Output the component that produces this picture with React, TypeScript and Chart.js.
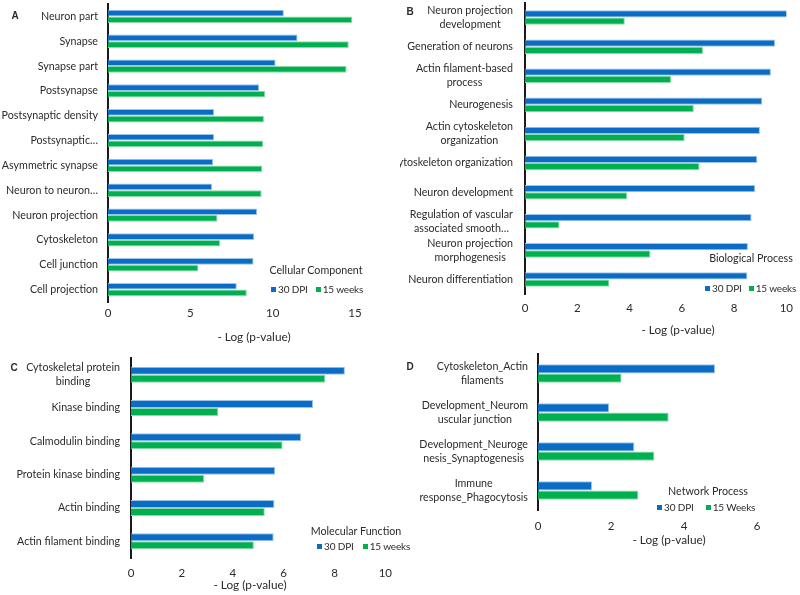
import React, { useEffect, useRef } from "react";
import { Chart, registerables } from "chart.js";

Chart.register(...registerables);

const FONT = "Lato, 'Open Sans', sans-serif";
const TEXT = "#2b2b2b";
const BLUE = "#0b6cc5";
const GREEN = "#00b050";
const BLUE_EDGE = "#9dc3e6";
const GREEN_EDGE = "#8fd9a8";

// ---- Panel A: Cellular Component ----
const ccCategories: (string | string[])[] = [
  "Neuron part",
  "Synapse",
  "Synapse part",
  "Postsynapse",
  "Postsynaptic density",
  "Postsynaptic…",
  "Asymmetric synapse",
  "Neuron to neuron…",
  "Neuron projection",
  "Cytoskeleton",
  "Cell junction",
  "Cell projection",
];
const cc30DPI = [10.68, 11.51, 10.18, 9.18, 6.45, 6.45, 6.39, 6.32, 9.06, 8.88, 8.84, 7.82];
const cc15Weeks = [14.84, 14.62, 14.49, 9.55, 9.47, 9.43, 9.37, 9.33, 6.65, 6.81, 5.49, 8.43];
const ccTicks = [0, 5, 10, 15];

// ---- Panel B: Biological Process ----
const bpCategories: (string | string[])[] = [
  ["Neuron projection", "development"],
  "Generation of neurons",
  ["Actin filament-based", "process"],
  "Neurogenesis",
  ["Actin cytoskeleton", "organization"],
  "Cytoskeleton organization",
  "Neuron development",
  ["Regulation of vascular", "associated smooth…"],
  ["Neuron projection", "morphogenesis"],
  "Neuron differentiation",
];
const bp30DPI = [10.09, 9.57, 9.41, 9.08, 8.99, 8.89, 8.81, 8.67, 8.53, 8.51];
const bp15Weeks = [3.82, 6.81, 5.59, 6.46, 6.11, 6.68, 3.91, 1.32, 4.8, 3.23];
const bpTicks = [0, 2, 4, 6, 8, 10];

// ---- Panel C: Molecular Function ----
const mfCategories: (string | string[])[] = [
  ["Cytoskeletal protein", "binding"],
  "Kinase binding",
  "Calmodulin binding",
  "Protein kinase binding",
  "Actin binding",
  "Actin filament binding",
];
const mf30DPI = [8.41, 7.16, 6.69, 5.67, 5.64, 5.61];
const mf15Weeks = [7.64, 3.43, 5.96, 2.88, 5.26, 4.83];
const mfTicks = [0, 2, 4, 6, 8, 10];

// ---- Panel D: Network Process ----
const npCategories: (string | string[])[] = [
  ["Cytoskeleton_Actin", "filaments"],
  ["Development_Neurom", "uscular junction"],
  ["Development_Neuroge", "nesis_Synaptogenesis"],
  ["Immune", "response_Phagocytosis"],
];
const np30DPI = [4.85, 1.95, 2.64, 1.48];
const np15Weeks = [2.29, 3.58, 3.19, 2.75];
const npTicks = [0, 2, 4, 6];

const seriesNames = ["30 DPI", "15 weeks"];
const seriesNamesD = ["30 DPI", "15 Weeks"];
const axisTitle = "- Log (p-value)";

const LABEL_SIZE = 10.7;
const LEGEND_SIZE = 10;
const LEGEND_TITLE_SIZE = 10.7;
const AXIS_TITLE_SIZE = 11.8;

type Box = { left: number; top: number; width: number; height: number };
type Area = { left: number; right: number; top: number; bottom: number };

type PanelProps = {
  labels: (string | string[])[];
  s1: number[];
  s2: number[];
  names: string[];
  ticks: number[];
  box: Box;
  area: Area;
  tickPad: number;
  catPct: number;
  labelPad: number;
  lineH: number;
};

function Panel(p: PanelProps) {
  const ref = useRef<HTMLCanvasElement>(null);
  useEffect(() => {
    if (!ref.current) return;
    const yW = p.area.left - p.box.left;
    const rPad = p.box.left + p.box.width - p.area.right;
    const tPad = p.area.top - p.box.top;
    const xH = p.box.top + p.box.height - p.area.bottom;
    const labelPlugin = {
      id: "catLabels",
      afterDraw(chart: any) {
        const ctx = chart.ctx;
        const y = chart.scales.y;
        ctx.save();
        ctx.font = `${LABEL_SIZE}px ${FONT}`;
        ctx.fillStyle = TEXT;
        ctx.textAlign = "center";
        ctx.textBaseline = "middle";
        p.labels.forEach((lab, i) => {
          const lines = Array.isArray(lab) ? lab : [lab];
          const w = Math.max(...lines.map((l) => ctx.measureText(l).width));
          const cx = chart.chartArea.left - p.labelPad - w / 2;
          const cy = y.getPixelForValue(i);
          lines.forEach((ln, j) => {
            ctx.fillText(ln, cx, cy + (j - (lines.length - 1) / 2) * p.lineH);
          });
        });
        ctx.restore();
      },
    };
    const chart = new Chart(ref.current, {
      type: "bar",
      data: {
        labels: p.labels as any,
        datasets: [
          {
            label: p.names[0],
            data: p.s1,
            backgroundColor: BLUE,
            borderColor: BLUE_EDGE,
            borderWidth: 1,
            categoryPercentage: p.catPct,
            barPercentage: 1,
          },
          {
            label: p.names[1],
            data: p.s2,
            backgroundColor: GREEN,
            borderColor: GREEN_EDGE,
            borderWidth: 1,
            categoryPercentage: p.catPct,
            barPercentage: 1,
          },
        ],
      },
      options: {
        indexAxis: "y",
        responsive: false,
        animation: false,
        layout: { padding: { top: tPad, right: rPad, bottom: 0, left: 0 } },
        plugins: { legend: { display: false }, tooltip: { enabled: false } },
        scales: {
          x: {
            min: p.ticks[0],
            max: p.ticks[p.ticks.length - 1],
            ticks: {
              stepSize: p.ticks[1] - p.ticks[0],
              padding: p.tickPad,
              color: TEXT,
              font: { family: FONT, size: 11.5, lineHeight: 1.2 },
            },
            grid: { display: false, drawTicks: false },
            border: { display: false },
            afterFit: (s: any) => {
              s.height = xH;
            },
          },
          y: {
            ticks: { display: false },
            grid: { display: false, drawTicks: false },
            border: { display: true, color: "#1a1a1a", width: 2 },
            afterFit: (s: any) => {
              s.width = yW;
            },
          },
        },
      } as any,
      plugins: [labelPlugin],
    });
    return () => chart.destroy();
  }, []);
  return (
    <canvas
      ref={ref}
      width={p.box.width}
      height={p.box.height}
      style={{
        position: "absolute",
        left: p.box.left,
        top: p.box.top,
        width: p.box.width,
        height: p.box.height,
      }}
    />
  );
}

function Txt(props: { x: number; y: number; size?: number; bold?: boolean; family?: string; children: any }) {
  return (
    <div
      style={{
        position: "absolute",
        left: props.x,
        top: props.y,
        transform: "translate(-50%, -50%)",
        whiteSpace: "nowrap",
        fontFamily: props.family || FONT,
        fontSize: props.size || 12,
        fontWeight: props.bold ? 700 : 400,
        color: TEXT,
        lineHeight: 1,
      }}
    >
      {props.children}
    </div>
  );
}

function Legend(props: { x: number; y: number; names: string[]; gap: number }) {
  const sq = (c: string) => (
    <span style={{ display: "inline-block", width: 5, height: 5, background: c, marginRight: 2 }} />
  );
  return (
    <div
      style={{
        position: "absolute",
        left: props.x,
        top: props.y,
        transform: "translateY(-50%)",
        display: "flex",
        alignItems: "center",
        whiteSpace: "nowrap",
        fontFamily: FONT,
        fontSize: LEGEND_SIZE,
        letterSpacing: -0.15,
        color: TEXT,
        lineHeight: 1,
      }}
    >
      {sq(BLUE)}
      <span style={{ marginRight: props.gap }}>{props.names[0]}</span>
      {sq(GREEN)}
      <span>{props.names[1]}</span>
    </div>
  );
}

export default function App() {
  return (
    <div
      style={{
        position: "absolute",
        left: 0,
        top: 0,
        width: 800,
        height: 595,
        background: "#fff",
        overflow: "hidden",
      }}
    >
      <Panel
        labels={ccCategories}
        s1={cc30DPI}
        s2={cc15Weeks}
        names={seriesNames}
        ticks={ccTicks}
        box={{ left: 0, top: 0, width: 400, height: 350 }}
        area={{ left: 108, right: 355, top: 4, bottom: 302 }}
        tickPad={4}
        catPct={0.54}
        labelPad={10}
        lineH={13.5}
      />
      <Panel
        labels={bpCategories}
        s1={bp30DPI}
        s2={bp15Weeks}
        names={seriesNames}
        ticks={bpTicks}
        box={{ left: 400, top: 0, width: 400, height: 350 }}
        area={{ left: 525, right: 788, top: 3, bottom: 294 }}
        tickPad={7}
        catPct={0.5}
        labelPad={12}
        lineH={14}
      />
      <Panel
        labels={mfCategories}
        s1={mf30DPI}
        s2={mf15Weeks}
        names={seriesNames}
        ticks={mfTicks}
        box={{ left: 0, top: 350, width: 400, height: 245 }}
        area={{ left: 131, right: 393, top: 358, bottom: 558 }}
        tickPad={8}
        catPct={0.48}
        labelPad={11}
        lineH={13.5}
      />
      <Panel
        labels={npCategories}
        s1={np30DPI}
        s2={np15Weeks}
        names={seriesNamesD}
        ticks={npTicks}
        box={{ left: 400, top: 350, width: 400, height: 245 }}
        area={{ left: 538, right: 757, top: 354, bottom: 510 }}
        tickPad={9}
        catPct={0.48}
        labelPad={10}
        lineH={13.5}
      />

      <Txt x={15} y={16} size={10} bold family="'Liberation Sans', Arial, sans-serif">A</Txt>
      <Txt x={410} y={12} size={10} bold family="'Liberation Sans', Arial, sans-serif">B</Txt>
      <Txt x={14} y={368} size={10} bold family="'Liberation Sans', Arial, sans-serif">C</Txt>
      <Txt x={410} y={367} size={10} bold family="'Liberation Sans', Arial, sans-serif">D</Txt>

      <Txt x={254} y={337} size={AXIS_TITLE_SIZE}>{axisTitle}</Txt>
      <Txt x={678} y={330} size={AXIS_TITLE_SIZE}>{axisTitle}</Txt>
      <Txt x={250} y={585} size={AXIS_TITLE_SIZE}>{axisTitle}</Txt>
      <Txt x={669} y={540} size={AXIS_TITLE_SIZE}>{axisTitle}</Txt>

      <Txt x={316} y={270} size={LEGEND_TITLE_SIZE}>Cellular Component</Txt>
      <Legend x={271} y={289} names={seriesNames} gap={8} />
      <Txt x={751} y={258} size={LEGEND_TITLE_SIZE}>Biological Process</Txt>
      <Legend x={705} y={288} names={seriesNames} gap={7} />
      <Txt x={356} y={531} size={LEGEND_TITLE_SIZE}>Molecular Function</Txt>
      <Legend x={317} y={546} names={seriesNames} gap={9} />
      <Txt x={708} y={491} size={LEGEND_TITLE_SIZE}>Network Process</Txt>
      <Legend x={657} y={507} names={seriesNamesD} gap={12} />
    </div>
  );
}
